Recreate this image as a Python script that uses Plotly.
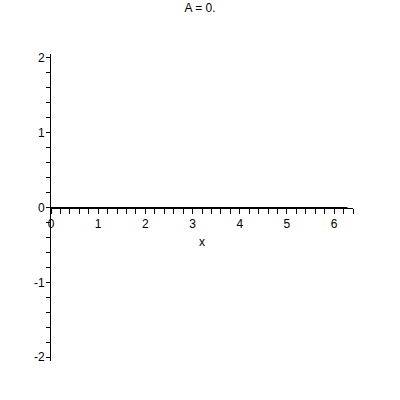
import plotly.graph_objects as go

title_text = "A = 0."
x_values = [0.0, 0.5, 1.0, 1.5, 2.0, 2.5, 3.0, 3.5, 4.0, 4.5, 5.0, 5.5, 6.0, 6.283]
y_values = [0, 0, 0, 0, 0, 0, 0, 0, 0, 0, 0, 0, 0, 0]
x_ticks = [0, 1, 2, 3, 4, 5, 6]
y_ticks = [-2, -1, 0, 1, 2]

fig = go.Figure()
fig.add_trace(go.Scatter(x=x_values, y=y_values, mode="lines",
                         line=dict(color="black", width=1), showlegend=False,
                         hoverinfo="skip"))

font = dict(family="Liberation Sans, Arial, sans-serif", size=12, color="black")

fig.update_layout(
    width=400, height=400,
    margin=dict(l=51, r=47, t=54, b=39, autoexpand=False),
    paper_bgcolor="white", plot_bgcolor="white",
    font=font,
    title=dict(text=title_text, x=0.5, xanchor="center", y=0.98, yanchor="middle",
               font=dict(family="Liberation Sans, Arial, sans-serif", size=12, color="black")),
    xaxis=dict(range=[0, 6.4001], anchor="free", position=0.5, automargin=False,
               showgrid=False, zeroline=False,
               showline=True, linecolor="black", linewidth=1,
               tickmode="array", tickvals=x_ticks, ticktext=[str(v) for v in x_ticks],
               ticks="outside", ticklen=5, tickcolor="black", tickwidth=1,
               minor=dict(dtick=0.2, tick0=0, ticks="outside", ticklen=5,
                          tickcolor="black", tickwidth=1, showgrid=False),
               title=dict(text="x", standoff=7, font=font),
               tickfont=font),
    yaxis=dict(range=[-2.05, 2.05], anchor="x", automargin=False,
               showgrid=False, zeroline=False,
               showline=True, linecolor="black", linewidth=1,
               tickmode="array", tickvals=y_ticks, ticktext=[str(v) for v in y_ticks],
               ticks="outside", ticklen=4, tickcolor="black", tickwidth=1,
               ticklabelstandoff=-1,
               minor=dict(dtick=0.2, tick0=0, ticks="outside", ticklen=4,
                          tickcolor="black", tickwidth=1, showgrid=False),
               tickfont=font),
)

fig.write_html("out.html", config={"displayModeBar": False},
               post_script="document.body.style.margin='0';")
